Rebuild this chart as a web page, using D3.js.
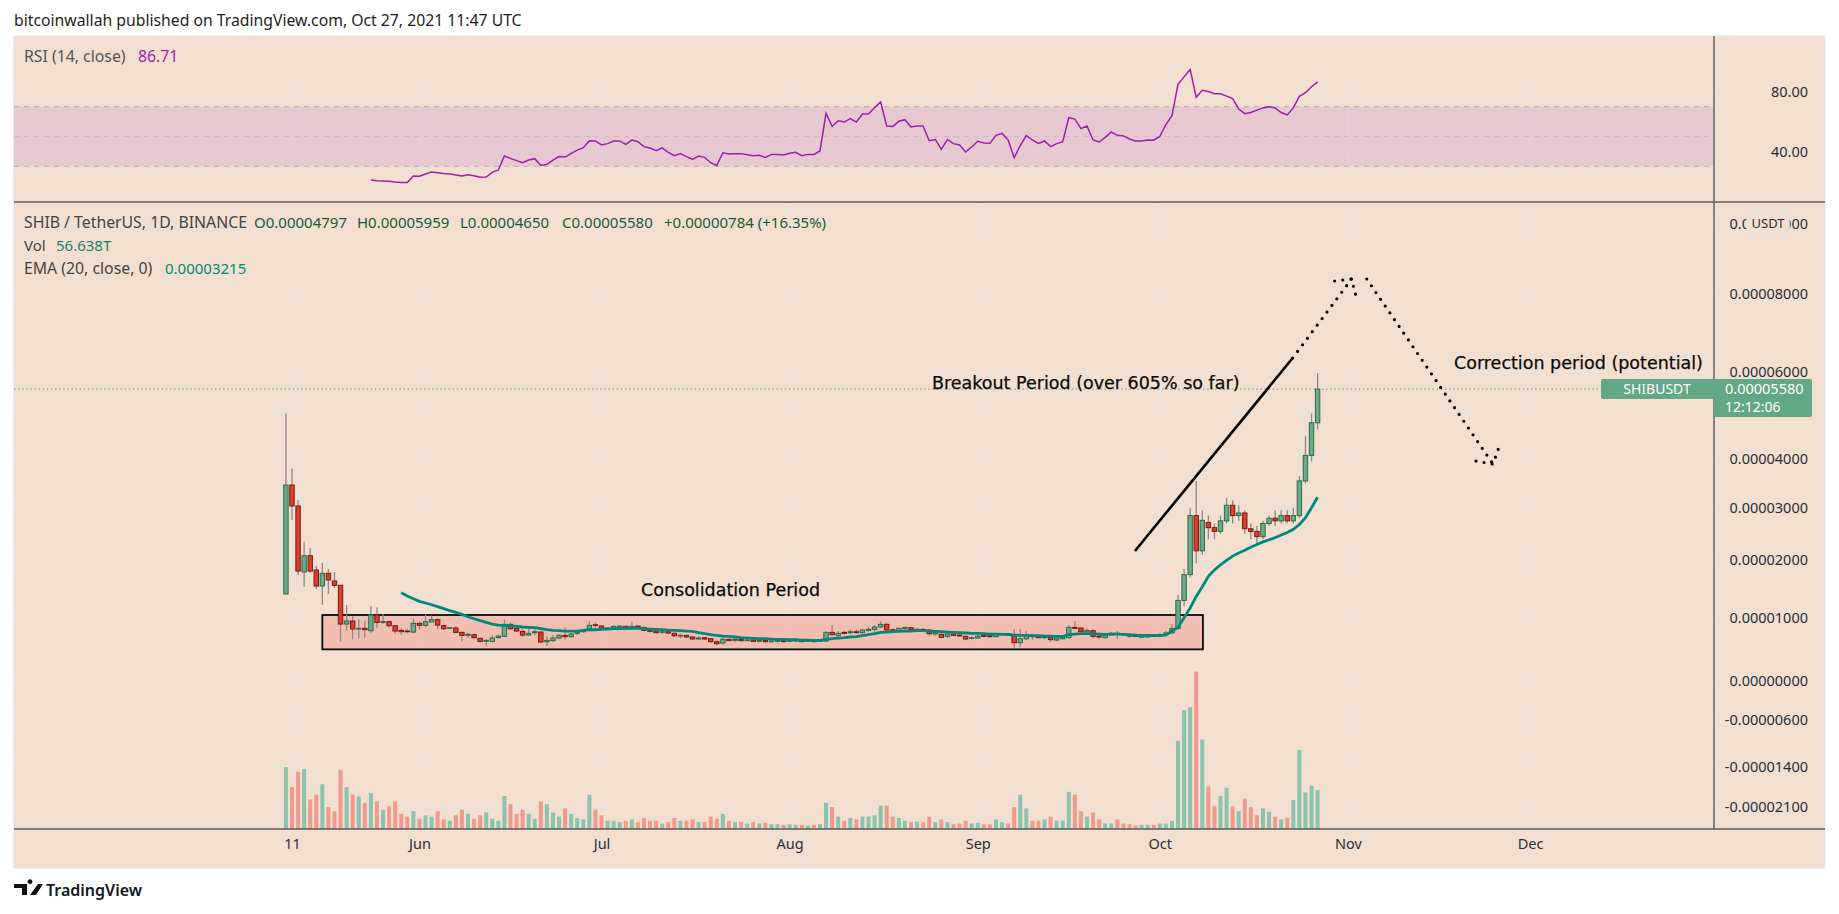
<!DOCTYPE html>
<html>
<head>
<meta charset="utf-8">
<script src="https://cdn.jsdelivr.net/npm/d3@7"></script>
<style>
  body { margin: 0; background: #fff; }
  svg { display: block; }
  text { font-family: "Noto Sans", sans-serif; }
  .note { font-family: "DejaVu Sans", sans-serif; font-size: 17.5px; fill: #0b0b0b; stroke: #0b0b0b; stroke-width: 0.25px; }
  .legend { font-size: 15px; }
  .legend.wide { font-size: 15.8px; }
  .tick text { font-size: 14.5px; fill: #2a2e39; }
</style>
</head>
<body>
<svg id="chart" width="1839" height="914"></svg>
<script>
// prices are in units of 0.00000001, one entry per day starting May 10 2021
const opens = [
  1413,3465,3035,1796,2087,1831,1552,1773,1640,1564,
  900,947,821,832,795,1046,926,937,874,800,
  789,773,911,879,932,968,874,832,837,768,
  721,731,674,626,626,684,705,895,832,784,
  726,763,773,621,637,679,721,700,753,779,
  800,889,868,816,826,847,863,826,868,847,
  805,789,768,789,753,710,721,695,663,684,
  668,621,600,658,642,658,637,647,626,642,
  621,626,637,626,631,642,626,637,626,631,
  768,721,768,763,779,763,800,816,853,895,
  810,789,826,842,800,816,805,742,737,705,
  742,726,705,674,679,721,716,700,737,747,
  721,605,668,716,710,684,689,647,668,684,
  847,837,779,795,710,684,726,753,742,731,
  721,689,695,721,705,735,760,830,1300,1750,
  2850,2180,2720,2620,2550,2750,3050,2850,2900,2600,
  2550,2450,2700,2800,2750,2850,2750,2850,3550,4080,
  4797];
const highs = [
  5000,3800,3158,2353,2234,1900,1958,1848,1796,1570,
  1221,1029,974,953,1203,1180,1058,953,884,832,
  826,989,937,1058,1035,989,895,853,868,784,
  763,753,689,658,721,731,974,921,858,816,
  847,826,784,700,721,742,847,779,805,826,
  947,926,884,853,879,884,874,937,884,858,
  816,805,805,805,768,753,731,710,710,700,
  679,637,700,668,684,674,674,689,663,653,
  658,663,658,668,653,647,647,658,658,789,
  884,789,789,816,816,826,853,884,942,926,
  832,837,858,847,837,837,826,773,753,773,
  753,753,716,705,721,737,731,763,763,763,
  816,821,784,753,726,731,710,689,716,884,
  947,847,826,816,726,731,773,789,763,753,
  742,731,737,742,760,790,900,1400,1850,3000,
  3550,2950,2850,2700,2850,3200,3150,3050,2950,2700,
  2650,2750,2850,2950,2950,2950,3000,3650,4500,5000,
  5959];
const lows = [
  1413,2766,1744,1535,1779,1500,1226,1413,1517,621,
  795,658,674,684,763,832,900,847,742,726,
  753,753,816,847,926,816,805,821,753,621,
  679,674,605,547,610,674,695,805,779,700,
  710,716,605,552,616,658,658,684,721,763,
  779,832,805,805,805,832,816,816,832,784,
  768,753,747,742,695,674,679,653,647,653,
  605,573,573,626,610,626,626,616,610,610,
  605,605,610,610,621,610,616,610,616,616,
  716,705,731,742,747,747,779,773,832,784,
  773,779,816,800,773,784,716,716,674,679,
  710,700,642,653,668,689,689,689,726,710,
  521,542,647,647,674,658,616,631,658,668,
  816,763,763,674,658,674,716,663,716,689,
  695,679,684,695,690,720,745,810,1200,1700,
  1950,2100,2400,2400,2500,2700,2700,2750,2500,2400,
  2300,2400,2650,2650,2700,2700,2700,2800,3500,3950,
  4650];
const closes = [
  3465,3035,1813,2087,1813,1552,1773,1657,1564,900,
  947,821,832,810,1046,926,937,874,789,779,
  779,911,879,937,968,884,826,842,768,721,
  737,684,626,642,679,710,895,826,789,726,
  753,779,616,642,679,721,700,742,773,800,
  879,879,826,837,863,868,826,863,847,800,
  784,763,779,758,716,721,695,663,679,663,
  621,589,658,637,658,637,647,626,642,621,
  631,637,621,637,642,621,637,621,642,768,
  731,753,753,779,763,805,816,853,895,805,
  784,832,847,810,816,800,747,763,689,742,
  721,710,663,684,710,705,700,742,747,726,
  605,668,721,700,684,700,653,679,695,847,
  832,779,800,705,695,726,753,737,731,710,
  705,721,721,705,735,760,830,1300,1750,2850,
  2180,2760,2620,2550,2750,3050,2850,2900,2600,2550,
  2450,2700,2800,2750,2850,2750,2850,3550,4080,4797,
  5580];
// volume in trillions
const volumes = [
  90,61,83,87,43,50,65,32,26,86,
  61,50,47,38,52,40,28,33,40,22,
  18,26,15,20,18,26,14,12,20,28,
  22,15,20,24,15,12,48,36,22,28,
  22,15,40,36,24,18,30,22,16,14,
  50,28,20,12,12,10,12,14,10,16,
  12,12,8,10,16,12,12,14,10,10,
  18,15,22,12,10,10,8,10,8,9,
  7,7,6,7,6,6,5,6,7,38,
  32,18,12,16,14,18,18,20,34,34,
  18,16,12,10,11,10,18,10,14,10,
  7,8,12,8,9,7,7,14,10,8,
  32,50,30,12,12,14,18,12,12,54,
  50,26,18,24,14,8,8,14,8,7,
  5,6,6,6,8,8,12,128,173,177,
  229,130,62,33,48,60,33,26,44,32,
  20,30,25,18,14,16,42,115,53,63,
  56.638];
const emaStart = 19;
const emaValues = [
  1436,1377,1331,1285,1256,1226,1192,1157,1122,1093,1058,1017,984,953,926,900,
  884,879,874,863,853,847,842,826,810,800,795,789,789,789,800,810,810,816,821,
  826,826,832,832,832,826,821,816,810,805,800,795,789,784,764,747,731,721,710,
  705,695,684,679,674,668,668,663,658,658,653,653,647,647,642,642,658,668,679,
  684,695,700,716,731,747,768,773,779,784,789,789,795,795,789,784,779,773,768,
  763,758,753,753,747,742,742,737,737,726,721,721,716,716,710,710,705,705,731,
  742,747,747,747,742,737,742,742,737,731,726,721,721,721,722,725,790,850,1000,
  1170,1370,1540,1720,1830,1920,2000,2080,2140,2190,2250,2300,2350,2390,2430,
  2480,2530,2590,2680,2810,3000,3215];
const rsiStart = 14;
const rsiValues = [
  20.8,20.3,20.1,19.9,19.5,19.2,19.2,23.5,23.3,24.8,26.2,25.7,25.1,24.8,24.2,23.5,
  24.4,23.7,22.6,22.8,25.9,27.5,36.9,35.3,33.8,32.4,34.2,35.1,30.6,31.3,34.2,36.5,
  36.2,38.7,40.9,42.5,47.2,47,44.3,45.2,47,47,44.7,47.6,46.5,43.2,42.3,40.5,42.3,
  39.4,37.1,38.5,36.5,34.7,36.9,36,32.4,30.6,39.1,38.2,38.5,38.5,37.8,37.1,37.4,
  36,38,38,37.6,38.7,39.4,37.1,38,38,40.3,65.6,56.8,60.6,59.7,62,59.7,65.1,65.1,
  69.4,73.2,57,56.8,60.2,61.3,56.4,57,57,47.2,48,41.4,48,45.2,44.3,39.6,43,46.8,
  45.6,45.4,50.8,52.1,47.7,35.8,43.8,50.6,47.7,45.4,47,43.2,45.2,46.5,62.6,61.7,
  55.3,57,47.7,46.3,49.4,53,50.8,50.4,48.3,47,47,47.7,47.5,50,58,64,85,90,95,
  76.3,81,80.2,78.7,78.7,77.1,75.5,68.4,65.3,66.1,67.7,69.2,70,69.2,66.1,64.5,
  69.2,77,79.4,83.4,86.71];

const priceTicks = [10000, 8000, 6000, 5000, 4000, 3000, 2000, 1000, 0, -600, -1400, -2100];
const rsiTicks = [80, 40];
const timeTickDays = [1, 22, 52, 83, 114, 144, 175, 205];
const timeTickLabels = ['11', 'Jun', 'Jul', 'Aug', 'Sep', 'Oct', 'Nov', 'Dec'];

// annotations, as [day, price]
const trendLine = [[139.9, 2177], [165.9, 6348]];
const arrowUp = [[165.9, 6348], [175.6, 8429]];
const arrowUpHead = [[172.8, 8372], [175.6, 8429], [176.4, 7897]];
const arrowDown = [[178.1, 8429], [198.9, 3896]];
const arrowDownHead = [[196.1, 3958], [198.9, 3896], [199.9, 4264]];
const consolidationBox = { from: 6, to: 151.1, top: 1047, bottom: 500 };

const LEFT = 14, TOP = 36, PLOT_RIGHT = 1714, RIGHT = 1825, BOTTOM = 829, FRAME_BOTTOM = 868, RSI_BOTTOM = 202;
const BG = '#f2dfcf', GRID = '#ebe3dd', SEP = '#5d5d5d';

const svg = d3.select('#chart');

// scales
const x = d3.scaleLinear().domain([1, 205]).range([292, 1530]);
// the price axis of the chart is not linear, so it goes tick by tick
const y = d3.scaleLinear().domain(priceTicks).range([224, 294, 371.5, 413.5, 459, 507.7, 560.3, 617.7, 681, 720, 767.3, 807]);
const rsiY = d3.scaleLinear().domain([70, 30]).range([106.7, 166.3]);
const volY = d3.scaleLinear().domain([0, 229]).range([BOTTOM, 671.5]);

const fmtPrice = v => (v / 1e8).toFixed(8);

// background and grid
svg.append('rect').attr('x', LEFT).attr('y', TOP).attr('width', RIGHT - LEFT).attr('height', FRAME_BOTTOM - TOP)
  .attr('fill', BG).attr('stroke', '#e3e3e3');

const grid = svg.append('g').attr('stroke', GRID).attr('stroke-width', 1.4);
grid.selectAll('.v').data(timeTickDays).enter().append('line')
  .attr('x1', d => x(d)).attr('x2', d => x(d)).attr('y1', TOP).attr('y2', BOTTOM);
grid.selectAll('.p').data(priceTicks).enter().append('line')
  .attr('x1', LEFT).attr('x2', PLOT_RIGHT).attr('y1', d => y(d)).attr('y2', d => y(d));
grid.selectAll('.r').data(rsiTicks).enter().append('line')
  .attr('x1', LEFT).attr('x2', PLOT_RIGHT).attr('y1', d => rsiY(d)).attr('y2', d => rsiY(d));

// RSI band
svg.append('rect').attr('x', LEFT).attr('width', PLOT_RIGHT - LEFT)
  .attr('y', rsiY(70)).attr('height', rsiY(30) - rsiY(70)).attr('fill', 'rgba(142,3,237,0.1)');
svg.selectAll('.rsiLevel').data([70, 50, 30]).enter().append('line')
  .attr('x1', LEFT).attr('x2', PLOT_RIGHT).attr('y1', d => rsiY(d)).attr('y2', d => rsiY(d))
  .attr('stroke', d => d === 50 ? '#cdb9c8' : '#b9b6bc').attr('stroke-width', 1.2).attr('stroke-dasharray', '5 5');

const rsiLine = d3.line().x((d, i) => x(i + rsiStart)).y(d => rsiY(d));
svg.append('path').datum(rsiValues).attr('d', rsiLine)
  .attr('fill', 'none').attr('stroke', '#9c1fae').attr('stroke-width', 1.5);

// volume
const days = d3.range(closes.length);
svg.append('g').selectAll('rect').data(days).enter().append('rect')
  .attr('x', d => x(d) - 2).attr('width', 4)
  .attr('y', d => volY(volumes[d])).attr('height', d => BOTTOM - volY(volumes[d]))
  .attr('fill', d => closes[d] >= opens[d] ? '#8ac3ae' : '#ef9a8c');

// consolidation box
svg.append('rect')
  .attr('x', x(consolidationBox.from)).attr('width', x(consolidationBox.to) - x(consolidationBox.from))
  .attr('y', y(consolidationBox.top)).attr('height', y(consolidationBox.bottom) - y(consolidationBox.top))
  .attr('fill', 'rgba(244,145,135,0.42)').attr('stroke', '#0a0a0a').attr('stroke-width', 1.8);

// last price line
svg.append('line').attr('x1', LEFT).attr('x2', PLOT_RIGHT).attr('y1', y(5580)).attr('y2', y(5580))
  .attr('stroke', '#6fae8d').attr('stroke-width', 1.2).attr('stroke-dasharray', '1.5 2.6');

// candles
const candle = svg.append('g').selectAll('g').data(days).enter().append('g');
candle.append('line')
  .attr('x1', d => x(d)).attr('x2', d => x(d)).attr('y1', d => y(highs[d])).attr('y2', d => y(lows[d]))
  .attr('stroke', '#8d8a85').attr('stroke-width', 1.3);
candle.append('rect')
  .attr('x', d => x(d) - 2.2).attr('width', 4.4)
  .attr('y', d => y(Math.max(opens[d], closes[d])))
  .attr('height', d => Math.max(0.6, y(Math.min(opens[d], closes[d])) - y(Math.max(opens[d], closes[d]))))
  .attr('fill', d => closes[d] >= opens[d] ? '#6aab87' : '#d9402e')
  .attr('stroke', d => closes[d] >= opens[d] ? '#2d6b4c' : '#7a1810').attr('stroke-width', 1);

// EMA
const emaLine = d3.line().x((d, i) => x(i + emaStart)).y(d => y(d));
svg.append('path').datum(emaValues).attr('d', emaLine)
  .attr('fill', 'none').attr('stroke', '#00897b').attr('stroke-width', 2.8);

// drawn lines
const noteLine = d3.line().x(d => x(d[0])).y(d => y(d[1]));
svg.append('path').attr('d', noteLine(trendLine)).attr('fill', 'none').attr('stroke', '#000').attr('stroke-width', 2.6);
[arrowUp, arrowUpHead, arrowDown, arrowDownHead].forEach(pts => {
  svg.append('path').attr('d', noteLine(pts)).attr('fill', 'none').attr('stroke', '#000')
    .attr('stroke-width', 3.2).attr('stroke-linecap', 'round').attr('stroke-dasharray', '0 8.2');
});

svg.append('text').attr('class', 'note').attr('x', 641).attr('y', 596).text('Consolidation Period');
svg.append('text').attr('class', 'note').attr('x', 932).attr('y', 389).text('Breakout Period (over 605% so far)');
svg.append('text').attr('class', 'note').attr('x', 1454).attr('y', 369).text('Correction period (potential)');

// frame lines
const seps = [[LEFT, RSI_BOTTOM, RIGHT, RSI_BOTTOM], [LEFT, BOTTOM, RIGHT, BOTTOM], [PLOT_RIGHT, TOP, PLOT_RIGHT, BOTTOM]];
svg.append('g').selectAll('line').data(seps).enter().append('line')
  .attr('x1', d => d[0]).attr('y1', d => d[1]).attr('x2', d => d[2]).attr('y2', d => d[3])
  .attr('stroke', SEP).attr('stroke-width', 1.4);

// axes, the 0.00005000 label is covered by the price tag in the reference
const priceAxis = svg.append('g').attr('transform', 'translate(1808,0)')
  .call(d3.axisRight(y).tickValues(priceTicks.filter(d => d !== 5000)).tickSize(0).tickFormat(fmtPrice));
priceAxis.select('.domain').remove();
priceAxis.selectAll('text').attr('x', 0).attr('text-anchor', 'end');

const rsiAxis = svg.append('g').attr('transform', 'translate(1808,0)')
  .call(d3.axisRight(rsiY).tickValues(rsiTicks).tickSize(0).tickFormat(d => d.toFixed(2)));
rsiAxis.select('.domain').remove();
rsiAxis.selectAll('text').attr('x', 0).attr('text-anchor', 'end');

const timeAxis = svg.append('g').attr('transform', `translate(0,${BOTTOM + 7})`)
  .call(d3.axisBottom(x).tickValues(timeTickDays).tickSize(0).tickFormat((d, i) => timeTickLabels[i]));
timeAxis.select('.domain').remove();

// USDT badge sits on the top price label
svg.append('rect').attr('x', 1747).attr('y', 212).attr('width', 42).attr('height', 23).attr('rx', 5)
  .attr('fill', BG).attr('stroke', '#e4e0dc').attr('stroke-width', 1.5);
svg.append('text').attr('x', 1768).attr('y', 228).attr('text-anchor', 'middle')
  .style('font-size', '13px').attr('fill', '#2a2e39').text('USDT');

// last price tags
svg.append('rect').attr('x', 1601).attr('y', 379).attr('width', 113).attr('height', 20).attr('rx', 2).attr('fill', '#62a786');
svg.append('rect').attr('x', 1714).attr('y', 379).attr('width', 98).attr('height', 38).attr('rx', 2).attr('fill', '#62a786');
svg.append('text').attr('x', 1657).attr('y', 394).attr('text-anchor', 'middle').attr('fill', '#fff').style('font-size', '14px').text('SHIBUSDT');
svg.append('text').attr('x', 1725).attr('y', 394).attr('fill', '#fff').style('font-size', '14.5px').text(fmtPrice(closes[closes.length - 1]));
svg.append('text').attr('x', 1725).attr('y', 412).attr('fill', '#fff').style('font-size', '14px').text('12:12:06');

// header and legends
function legend(px, py, txt, color, cls) {
  svg.append('text').attr('class', cls || 'legend').attr('x', px).attr('y', py).attr('fill', color).text(txt);
}
svg.append('text').attr('x', 14).attr('y', 26).style('font-size', '15.75px').attr('fill', '#1e1e1e')
  .text('bitcoinwallah published on TradingView.com, Oct 27, 2021 11:47 UTC');
legend(24, 62, 'RSI (14, close)', '#555', 'legend wide');
legend(138, 62, rsiValues[rsiValues.length - 1].toFixed(2), '#9c1fae', 'legend wide');
legend(24, 228, 'SHIB / TetherUS, 1D, BINANCE', '#444', 'legend wide');
const ohlcDark = '#1c5a3c';
legend(254, 228, 'O' + fmtPrice(opens[170]), ohlcDark);
legend(357, 228, 'H' + fmtPrice(highs[170]), ohlcDark);
legend(460, 228, 'L' + fmtPrice(lows[170]), ohlcDark);
legend(562, 228, 'C' + fmtPrice(closes[170]), ohlcDark);
legend(664, 228, '+0.00000784 (+16.35%)', ohlcDark);
legend(24, 251, 'Vol', '#444');
legend(56, 251, volumes[170] + 'T', '#1f7f6e');
legend(24, 274, 'EMA (20, close, 0)', '#444', 'legend wide');
legend(165, 274, fmtPrice(emaValues[emaValues.length - 1]), '#00897b');

// TradingView mark
svg.append('path').attr('d', 'M14 884h13v11h-5v-7h-8zM30 884a2.4 2.4 0 1 1 0.01 0zM38 884h5l-7 11h-6z').attr('fill', '#111');
svg.append('text').attr('x', 46).attr('y', 896).style('font-size', '16px').style('font-weight', 600).attr('fill', '#131722').text('TradingView');
</script>
</body>
</html>
